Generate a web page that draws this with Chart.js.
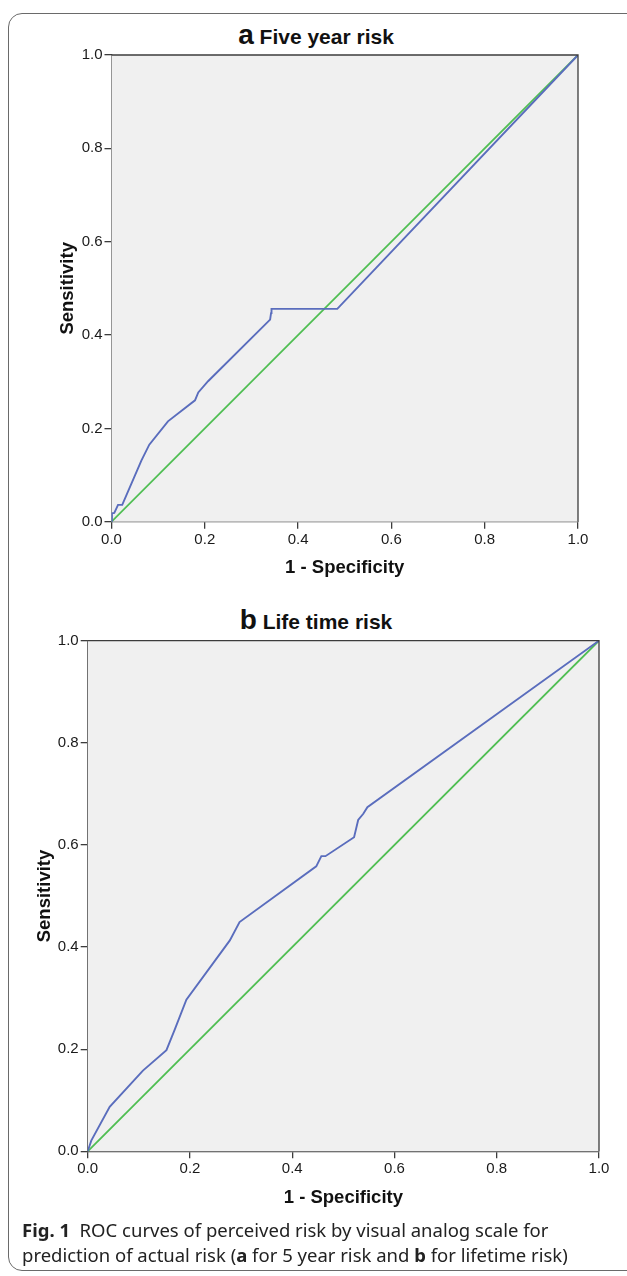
<!DOCTYPE html>
<html>
<head>
<meta charset="utf-8">
<title>ROC curves</title>
<script src="https://cdn.jsdelivr.net/npm/chart.js@4.4.1/dist/chart.umd.min.js"></script>
<style>
body{
    margin:0;
    width:627px;
    height:1276px;
    background:#fff;
    overflow:hidden;
    position:relative;
    font-family:"Liberation Sans", Arial, sans-serif;
}
.card{
    position:absolute;
    left:8px;
    top:13px;
    width:660px;
    height:1258px;
    border:1.5px solid #6a6a6a;
    border-radius:14px;
    box-sizing:border-box;
}
.charttitle{
    position:absolute;
    left:0;
    width:632px;
    text-align:center;
    font-weight:bold;
    color:#111;
    line-height:30px;
}
.charttitle .letter{ font-size:28px; }
.charttitle .name{ font-size:21px; }
.box{ position:absolute; }
.caption{
    position:absolute;
    left:22px;
    top:1217px;
    width:600px;
    font-family:"Noto Sans", "Open Sans", sans-serif;
    font-size:18.5px;
    line-height:25px;
    color:#222;
    white-space:nowrap;
}
</style>
</head>
<body>
<div class="card"></div>

<div class="charttitle" style="top:20px"><span class="letter">a</span><span class="name">&nbsp;Five year risk</span></div>
<div class="box" style="left:52px;top:40px;width:560px;height:545px"><canvas id="fiveyearchart"></canvas></div>

<div class="charttitle" style="top:605px"><span class="letter">b</span><span class="name">&nbsp;Life time risk</span></div>
<div class="box" style="left:30px;top:628px;width:590px;height:600px"><canvas id="lifetimechart"></canvas></div>

<div class="caption"><b>Fig. 1</b>&nbsp; ROC curves of perceived risk by visual analog scale for<br>prediction of actual risk (<b>a</b> for 5 year risk and <b>b</b> for lifetime risk)</div>

<script>
// axis ticks (both panels)
let tickValues = [0, 0.2, 0.4, 0.6, 0.8, 1.0]

// panel a - five year risk
let fiveYearFpr = [0, 0.001, 0.006, 0.014, 0.023, 0.064, 0.081, 0.121, 0.179, 0.186, 0.207, 0.340, 0.342, 0.343, 0.484, 1.0]
let fiveYearTpr = [0, 0.018, 0.019, 0.036, 0.036, 0.131, 0.165, 0.215, 0.260, 0.277, 0.301, 0.433, 0.447, 0.456, 0.456, 1.0]

// panel b - lifetime risk
let lifetimeFpr = [0, 0.007, 0.043, 0.108, 0.154, 0.170, 0.193, 0.278, 0.297, 0.447, 0.457, 0.465, 0.521, 0.529, 0.539, 0.547, 1.0]
let lifetimeTpr = [0, 0.021, 0.087, 0.158, 0.198, 0.238, 0.297, 0.413, 0.449, 0.558, 0.578, 0.578, 0.615, 0.649, 0.661, 0.674, 1.0]

// reference diagonal
let refFpr = [0, 1]
let refTpr = [0, 1]

const curveColor = '#5a6dbd'
const refColor = '#4fbe52'
const axisColor = '#3c3c3c'

function toPoints(xs, ys){
    return xs.map(function(x, i){ return {x: x, y: ys[i]} })
}

// grey plot area plus the top/right frame
const plotFrame = {
    id: 'plotFrame',
    beforeDatasetsDraw(chart){
        const a = chart.chartArea
        const ctx = chart.ctx
        ctx.save()
        ctx.fillStyle = '#f0f0f0'
        ctx.fillRect(a.left, a.top, a.right - a.left, a.bottom - a.top)
        ctx.restore()
    },
    afterDraw(chart){
        const a = chart.chartArea
        const ctx = chart.ctx
        ctx.save()
        ctx.strokeStyle = axisColor
        ctx.lineWidth = 1.3
        ctx.beginPath()
        ctx.moveTo(a.left, a.top)
        ctx.lineTo(a.right, a.top)
        ctx.lineTo(a.right, a.bottom)
        ctx.stroke()
        ctx.restore()
    }
}

function drawroc(canvasid, fpr, tpr, sizes){
    const canvas = document.getElementById(canvasid)
    new Chart(canvas, {
        type: 'scatter',
        data: {
            datasets: [{
                data: toPoints(fpr, tpr),
                showLine: true,
                borderColor: curveColor,
                borderWidth: 1.9,
                pointRadius: 0,
                tension: 0
            }, {
                data: toPoints(refFpr, refTpr),
                showLine: true,
                borderColor: refColor,
                borderWidth: 1.8,
                pointRadius: 0,
                tension: 0
            }]
        },
        options: {
            responsive: true,
            maintainAspectRatio: false,
            animation: false,
            layout: {
                padding: {top: sizes.padTop, right: sizes.padRight, left: 0, bottom: sizes.padBottom}
            },
            plugins: {
                legend: {display: false},
                tooltip: {enabled: false}
            },
            scales: {
                x: {
                    type: 'linear',
                    min: 0,
                    max: 1,
                    afterBuildTicks: function(axis){
                        axis.ticks = tickValues.map(function(v){ return {value: v} })
                    },
                    afterFit: function(axis){ axis.height = sizes.xHeight },
                    ticks: {
                        callback: function(v){ return v.toFixed(1) },
                        color: '#1a1a1a',
                        font: {family: 'Liberation Sans', size: 15},
                        padding: 2,
                        maxRotation: 0
                    },
                    grid: {drawOnChartArea: false, drawTicks: true, tickLength: 7, color: axisColor, lineWidth: 1.3},
                    border: {display: true, color: axisColor, width: 1.3},
                    title: {
                        display: true,
                        text: '1 - Specificity',
                        color: '#111',
                        font: {family: 'Liberation Sans', size: 18.5, weight: 'bold'},
                        padding: {top: 4, bottom: 0}
                    }
                },
                y: {
                    type: 'linear',
                    min: 0,
                    max: 1,
                    afterBuildTicks: function(axis){
                        axis.ticks = tickValues.map(function(v){ return {value: v} })
                    },
                    afterFit: function(axis){ axis.width = sizes.yWidth },
                    ticks: {
                        callback: function(v){ return v.toFixed(1) },
                        color: '#1a1a1a',
                        font: {family: 'Liberation Sans', size: 15},
                        padding: 2
                    },
                    grid: {drawOnChartArea: false, drawTicks: true, tickLength: 7, color: axisColor, lineWidth: 1.3},
                    border: {display: true, color: axisColor, width: 1.3},
                    title: {
                        display: true,
                        text: 'Sensitivity',
                        color: '#111',
                        font: {family: 'Liberation Sans', size: 18.5, weight: 'bold'},
                        padding: {top: sizes.yTitlePad, bottom: 0}
                    }
                }
            }
        },
        plugins: [plotFrame]
    })
}

drawroc('fiveyearchart', fiveYearFpr, fiveYearTpr, {padTop: 15, padRight: 34, padBottom: 5.9, yWidth: 59.5, xHeight: 57.4, yTitlePad: 5})
drawroc('lifetimechart', lifetimeFpr, lifetimeTpr, {padTop: 12.7, padRight: 21, padBottom: 18.9, yWidth: 57.7, xHeight: 57.8, yTitlePad: 4})
</script>
</body>
</html>
